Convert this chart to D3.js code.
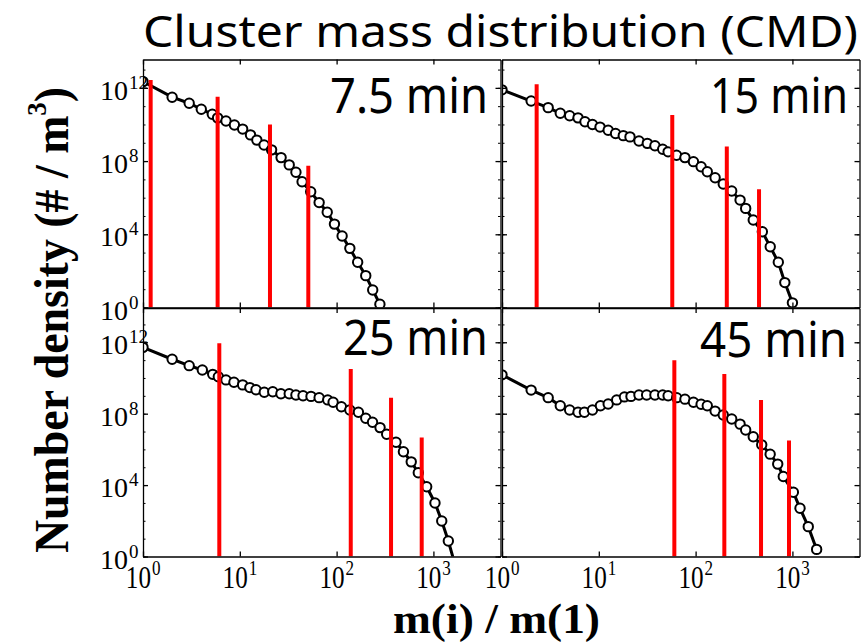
<!DOCTYPE html>
<html>
<head>
<meta charset="utf-8">
<script src="https://cdn.jsdelivr.net/npm/d3@7"></script>
<style>
  body { margin: 0; background: #fff; }
  svg { display: block; }
  .axis path, .axis line { stroke: #000; stroke-width: 1.3; }
  .minor line { stroke: #000; stroke-width: 1; }
</style>
</head>
<body>
<svg id="chart" width="867" height="643"></svg>
<script>
// values (m(i)/m(1), number density in #/m^3)
const panelTitles = ["7.5 min", "15 min", "25 min", "45 min"];

const m75 = [1, 2, 3, 4, 5.2, 5.9, 7.2, 8.8, 10.7, 12.9, 15, 17.8, 21.3, 26.7, 32.4, 38, 44, 54, 66, 80, 95, 114, 137, 165, 200, 236, 280];
const n75 = [2.2e12, 3.1e11, 1.45e11, 6.8e10, 3.6e10, 2.3e10, 1.55e10, 9.3e9, 5.6e9, 2.7e9, 1.4e9, 7.6e8, 4.1e8, 1.55e8, 6.2e7, 2.45e7, 7.4e6, 2.1e6, 5.4e5, 1.6e5, 3.6e4, 8.1e3, 1.7e3, 295, 55, 9.1, 1.5];
const bar75M = [1.2, 5.9, 20.5, 51];
const bar75N = [2.7e12, 3.3e11, 1.0e10, 5.6e7];

const m15 = [1, 2, 3, 4, 5, 6.1, 7.2, 8.6, 10.3, 12.5, 14.9, 17.9, 21, 26, 31.7, 38, 45.7, 52, 63.5, 77.6, 95, 114, 132, 159, 193, 236, 288, 329, 394, 489, 590, 715, 835, 1000];
const n15 = [7.8e11, 1.9e11, 8.3e10, 4.1e10, 3.0e10, 2.3e10, 1.4e10, 1.0e10, 7.2e9, 4.8e9, 3.2e9, 2.45e9, 2.1e9, 1.26e9, 9.3e8, 6.9e8, 4.4e8, 3.2e8, 2.1e8, 1.55e8, 9.3e7, 4.9e7, 2.6e7, 1.23e7, 5.6e6, 2.3e6, 7.4e5, 2.6e5, 6.0e4, 1.38e4, 2.1e3, 295, 23, 1.8];
const bar15M = [2.28, 57.4, 210, 452];
const bar15N = [1.6e12, 3.3e10, 6.2e8, 2.9e6];

const m25 = [1, 2, 3, 4.1, 5.25, 6, 7.2, 8.7, 10.7, 12.7, 14.7, 17.9, 21.9, 26.6, 32.4, 38, 45, 54.4, 66, 81, 92, 112, 137, 168, 200, 235, 281, 329, 411, 490, 590, 698, 852, 1038, 1219, 1426, 1660];
const n25 = [5.2e11, 1.12e11, 4.9e10, 2.8e10, 1.6e10, 1.17e10, 7.8e9, 5.8e9, 4.1e9, 2.9e9, 2.2e9, 1.6e9, 1.7e9, 1.3e9, 1.3e9, 1.12e9, 1.02e9, 9.3e8, 7.9e8, 5.9e8, 4.4e8, 2.45e8, 1.6e8, 1.2e8, 5.5e7, 3.3e7, 1.66e7, 7.1e6, 2.5e6, 7.4e5, 2.0e5, 4.9e4, 8.1e3, 1.0e3, 98, 7.4, 0.4];
const bar25M = [6.14, 140, 365, 757];
const bar25N = [8.7e11, 3.2e10, 7.9e8, 4.6e6];

const m45 = [1, 2, 3, 4, 5, 6.1, 7.1, 8.6, 10.4, 12.5, 15.3, 18.4, 21.5, 26, 31.2, 38, 45.7, 52, 63.8, 77.6, 95, 114, 132, 159, 193, 236, 288, 329, 394, 482, 589, 705, 805, 1023, 1198, 1458, 1779];
const n45 = [1.5e10, 2.1e9, 7.9e8, 2.8e8, 1.6e8, 1.2e8, 1.2e8, 1.6e8, 2.8e8, 3.5e8, 5.9e8, 8.7e8, 9.3e8, 1.12e9, 1.12e9, 1.12e9, 1.12e9, 1.02e9, 7.9e8, 6.5e8, 4.4e8, 3.4e8, 2.8e8, 1.4e8, 8.5e7, 5.0e7, 2.6e7, 1.23e7, 5.1e6, 1.8e6, 5.4e5, 1.5e5, 3.0e4, 4.0e3, 500, 47, 2.5];
const bar45M = [60.3, 198, 474, 922];
const bar45N = [1.0e11, 1.66e10, 5.9e8, 3.1e6];

const xTickVals = [1, 10, 100, 1000];
const yTickVals = [1, 1e4, 1e8, 1e12];

const svg = d3.select("#chart");
const serif = "'Liberation Serif', 'Times New Roman', serif";
const comic = "'Comic Sans MS', 'Noto Sans', sans-serif";

// layout of the 2x2 grid
const cols = [[143, 500.5], [502, 859.5]];
const rows = [[307.5, 59.5], [556.5, 308]];
const xDomain = [1, Math.pow(10, 3.693)];
const yDomains = [[1, Math.pow(10, 13.55)], [1, Math.pow(10, 13.92)]];

const panels = [
  {name: panelTitles[0], m: m75, n: n75, bm: bar75M, bn: bar75N, c: 0, r: 0, lx: 330, ly: 113, lw: 158},
  {name: panelTitles[1], m: m15, n: n15, bm: bar15M, bn: bar15N, c: 1, r: 0, lx: 710, ly: 113, lw: 138},
  {name: panelTitles[2], m: m25, n: n25, bm: bar25M, bn: bar25N, c: 0, r: 1, lx: 343, ly: 355, lw: 145},
  {name: panelTitles[3], m: m45, n: n45, bm: bar45M, bn: bar45N, c: 1, r: 1, lx: 700, ly: 357, lw: 147}
];

function supLabel(parent, xEnd, yBase, exp, opts) {
  // "10" with a superscript exponent, "10" ends at xEnd
  let g = parent.append("g").attr("transform", "translate(" + xEnd + "," + yBase + ") scale(" + opts.sx + "," + opts.sy + ")");
  g.append("text").attr("text-anchor", "end")
    .attr("font-family", serif).attr("font-size", 28).text("10");
  g.append("text").attr("x", 1).attr("y", opts.supDy)
    .attr("font-family", serif).attr("font-size", 19).text(exp);
}

panels.forEach(function (p, i) {
  let x = d3.scaleLog().domain(xDomain).range(cols[p.c]);
  let y = d3.scaleLog().domain(yDomains[p.r]).range(rows[p.r]);
  let g = svg.append("g");

  let x0 = cols[p.c][0], x1 = cols[p.c][1], yb = rows[p.r][0], yt = rows[p.r][1];
  svg.append("clipPath").attr("id", "clip" + i)
    .append("rect").attr("x", x0).attr("y", yt).attr("width", x1 - x0).attr("height", yb - yt);

  let inner = g.append("g").attr("clip-path", "url(#clip" + i + ")");
  let pts = d3.zip(p.m, p.n);

  let linefcn = d3.line().x(d => x(d[0])).y(d => y(d[1]));
  inner.append("path").datum(pts)
    .attr("d", linefcn)
    .attr("fill", "none").attr("stroke", "#000").attr("stroke-width", 3);

  inner.selectAll("circle").data(pts).join("circle")
    .attr("cx", d => x(d[0])).attr("cy", d => y(d[1])).attr("r", 4.7)
    .attr("fill", "#fff").attr("stroke", "#000").attr("stroke-width", 2);

  // red bars on top
  inner.selectAll("line.bar").data(d3.zip(p.bm, p.bn)).join("line")
    .attr("class", "bar")
    .attr("x1", d => x(d[0])).attr("x2", d => x(d[0]))
    .attr("y1", y(1)).attr("y2", d => y(d[1]))
    .attr("stroke", "#ff0000").attr("stroke-width", 4);

  // frame + inward ticks on all sides
  g.append("g").attr("class", "axis").attr("transform", "translate(0," + yb + ")")
    .call(d3.axisBottom(x).tickValues(xTickVals).tickSizeInner(-5).tickSizeOuter(0).tickFormat(""));
  g.append("g").attr("class", "axis").attr("transform", "translate(0," + yt + ")")
    .call(d3.axisTop(x).tickValues(xTickVals).tickSizeInner(-5).tickSizeOuter(0).tickFormat(""));
  g.append("g").attr("class", "axis").attr("transform", "translate(" + x0 + ",0)")
    .call(d3.axisLeft(y).tickValues(yTickVals).tickSizeInner(-5).tickSizeOuter(0).tickFormat(""));
  g.append("g").attr("class", "axis").attr("transform", "translate(" + x1 + ",0)")
    .call(d3.axisRight(y).tickValues(yTickVals).tickSizeInner(-5).tickSizeOuter(0).tickFormat(""));

  let minorVals = d3.range(0, 14).map(k => Math.pow(10, k));
  let mL = g.append("g").attr("class", "minor").attr("transform", "translate(" + x0 + ",0)")
    .call(d3.axisLeft(y).tickValues(minorVals).tickSizeInner(-2.5).tickSizeOuter(0).tickFormat(""));
  mL.select(".domain").remove();
  let mR = g.append("g").attr("class", "minor").attr("transform", "translate(" + x1 + ",0)")
    .call(d3.axisRight(y).tickValues(minorVals).tickSizeInner(-2.5).tickSizeOuter(0).tickFormat(""));
  mR.select(".domain").remove();

  // tick labels
  if (p.c === 0) {
    yTickVals.forEach(function (v) {
      supLabel(svg, 128, y(v) + 12, String(Math.round(Math.log10(v))), {sx: 1, sy: 1, supDy: -11});
    });
  }
  if (p.r === 1) {
    xTickVals.forEach(function (v) {
      supLabel(svg, x(v) + 8, 588, String(Math.round(Math.log10(v))), {sx: 0.9, sy: 1.12, supDy: -12});
    });
  }

  // time label
  svg.append("text").attr("x", p.lx).attr("y", p.ly)
    .attr("font-family", comic).attr("font-size", 49)
    .attr("textLength", p.lw).attr("lengthAdjust", "spacingAndGlyphs")
    .text(p.name);
});

// title
svg.append("text").attr("x", 143).attr("y", 47)
  .attr("font-family", comic).attr("font-size", 43)
  .attr("textLength", 715).attr("lengthAdjust", "spacingAndGlyphs")
  .text("Cluster mass distribution (CMD)");

// axis titles
let yt = svg.append("text").attr("transform", "translate(68,553) rotate(-90)")
  .attr("font-family", serif).attr("font-weight", "bold").attr("font-size", 48)
  .attr("textLength", 466).attr("lengthAdjust", "spacingAndGlyphs");
yt.append("tspan").text("Number density (# / m");
yt.append("tspan").attr("dy", -22).attr("font-size", 28).text("3");
yt.append("tspan").attr("dy", 22).text(")");

svg.append("text").attr("x", 393).attr("y", 633)
  .attr("font-family", serif).attr("font-weight", "bold").attr("font-size", 43)
  .attr("textLength", 207).attr("lengthAdjust", "spacingAndGlyphs")
  .text("m(i) / m(1)");
</script>
</body>
</html>
